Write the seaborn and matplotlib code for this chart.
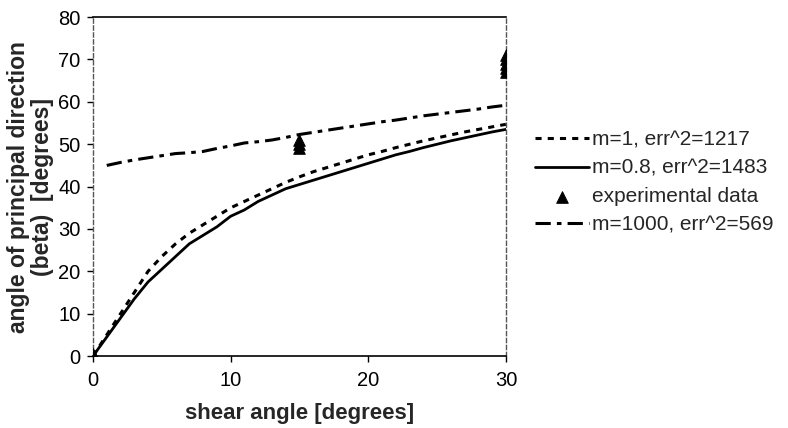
import numpy as np
import pandas as pd
import matplotlib
matplotlib.use("Agg")
import matplotlib.pyplot as plt
import seaborn as sns

sns.set_style("white")
plt.rcParams['font.family'] = ['Liberation Sans', 'DejaVu Sans']

shear = list(range(0, 31))
m1 = [0, 5, 10, 15, 20, 23.5, 26.5, 29, 31, 33, 35, 36.5, 38, 39.5, 41, 42.3, 43.5, 44.5,
      45.5, 46.5, 47.5, 48.3, 49.2, 50, 50.8, 51.5, 52.2, 52.9, 53.5, 54.1, 54.7]
m08 = [0, 4.5, 9, 13.5, 17.5, 20.5, 23.5, 26.5, 28.5, 30.5, 33, 34.5, 36.5, 38, 39.5, 40.5,
       41.5, 42.5, 43.5, 44.5, 45.5, 46.5, 47.5, 48.3, 49.2, 50, 50.8, 51.5, 52.2, 52.9, 53.5]
shear_m1000 = list(range(1, 31))
m1000 = [45, 45.7, 46.3, 46.8, 47.3, 47.8, 48, 48.3, 49, 49.6, 50.3, 50.6, 51, 51.6, 52.3,
         52.8, 53.3, 53.8, 54.3, 54.8, 55.3, 55.7, 56.2, 56.7, 57.1, 57.5, 57.9, 58.3, 58.8, 59.2]
exp_x = [0, 0, 15, 15, 15, 30, 30, 30, 30, 30]
exp_y = [0, 0.5, 49, 50, 51, 67, 68, 69, 70, 71]

labels = ["m=1, err^2=1217", "m=0.8, err^2=1483", "experimental data", "m=1000, err^2=569"]

fig = plt.figure(figsize=(7.88, 4.28), dpi=100)
ax = fig.add_axes([0.118, 0.168, 0.524, 0.792])

sns.lineplot(x=shear, y=m1, ax=ax, color="black", lw=2.2, linestyle=(0, (2, 2)), label=labels[0])
sns.lineplot(x=shear, y=m08, ax=ax, color="black", lw=2.0, linestyle="-", label=labels[1])
sns.scatterplot(x=exp_x, y=exp_y, ax=ax, color="black", marker="^", s=70, edgecolor="black",
                label=labels[2], zorder=5)
sns.lineplot(x=shear_m1000, y=m1000, ax=ax, color="black", lw=2.2,
             linestyle=(0, (5, 2, 1.5, 2)), label=labels[3])

ax.set_xlim(0, 30)
ax.set_ylim(0, 80)
ax.set_xticks([0, 10, 20, 30])
ax.set_yticks(range(0, 81, 10))
ax.tick_params(axis="both", labelsize=14.5, direction="out", length=4, width=1,
               bottom=True, left=True, colors="black")
ax.tick_params(axis="x", pad=7)
ax.tick_params(axis="y", pad=5)
for s in ["top", "bottom"]:
    ax.spines[s].set_color("black")
    ax.spines[s].set_linewidth(1.2)
for s in ["left", "right"]:
    ax.spines[s].set_color("#555555")
    ax.spines[s].set_linewidth(1.0)
    ax.spines[s].set_linestyle((0, (3, 2)))

ax.set_xlabel("shear angle [degrees]", fontsize=16, fontweight="bold", labelpad=9)
ax.set_ylabel("angle of principal direction\n(beta)  [degrees]", fontsize=16.5,
              fontweight="bold", labelpad=3, linespacing=1.05)

ax.legend(loc="center left", bbox_to_anchor=(1.07, 0.512), frameon=False, fontsize=15,
          handlelength=2.6, handletextpad=0.15, labelspacing=0.45, borderaxespad=0, borderpad=0)

fig.savefig("out.png", dpi=100)
